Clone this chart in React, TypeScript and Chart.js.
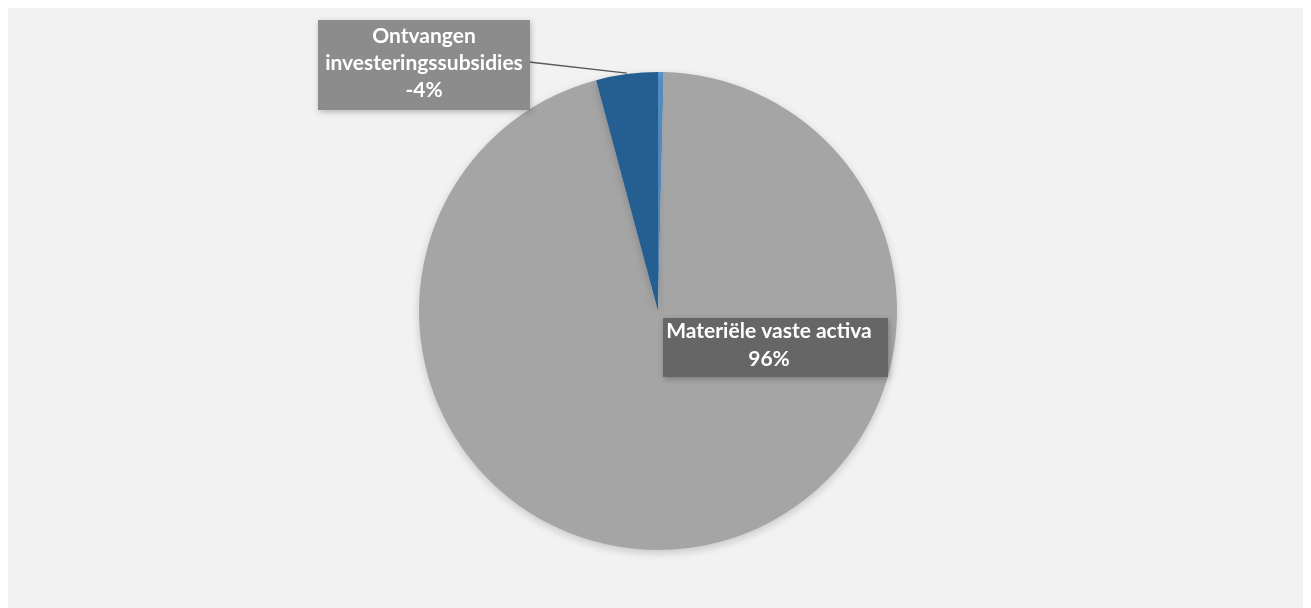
import React, { useEffect, useRef } from "react";
import { Chart, registerables } from "chart.js";

Chart.register(...registerables);

const categories = ["Overige", "Materiële vaste activa", "Ontvangen investeringssubsidies"];
const values = [0.38, 95.45, 4.17];
const shownPercents = [null, 96, -4];
const colors = ["#5b9bd5", "#a5a5a5", "#255e91"];

const FONT = "Lato, 'Open Sans', sans-serif";

const bgPlugin = {
  id: "bg",
  beforeDraw(chart: any) {
    const { ctx, width, height } = chart;
    ctx.save();
    ctx.fillStyle = "#f2f2f2";
    ctx.fillRect(0, 0, width, height);
    ctx.restore();
  },
};

const shadowPlugin = {
  id: "pieShadow",
  beforeDatasetsDraw(chart: any) {
    const ctx = chart.ctx;
    ctx.save();
    ctx.shadowColor = "rgba(0,0,0,0.18)";
    ctx.shadowBlur = 8;
    ctx.shadowOffsetY = 3;
  },
  afterDatasetsDraw(chart: any) {
    chart.ctx.restore();
  },
};

function drawBox(ctx: any, x: number, y: number, w: number, h: number, fill: string) {
  ctx.save();
  ctx.shadowColor = "rgba(0,0,0,0.25)";
  ctx.shadowBlur = 6;
  ctx.shadowOffsetX = 1;
  ctx.shadowOffsetY = 2;
  ctx.fillStyle = fill;
  ctx.fillRect(x, y, w, h);
  ctx.restore();
}

const labelPlugin = {
  id: "labels",
  afterDatasetsDraw(chart: any) {
    const { ctx } = chart;
    const meta = chart.getDatasetMeta(0);
    const arcs = meta.data;
    ctx.save();
    // label for investeringssubsidies (index 2)
    {
      const arc = arcs[2];
      const mid = (arc.startAngle + arc.endAngle) / 2;
      const ex = arc.x + Math.cos(mid) * arc.outerRadius;
      const ey = arc.y + Math.sin(mid) * arc.outerRadius;
      ctx.strokeStyle = "#595959";
      ctx.lineWidth = 1.3;
      ctx.beginPath();
      ctx.moveTo(521, 54);
      ctx.lineTo(ex, ey - 1);
      ctx.stroke();
      drawBox(ctx, 310, 12, 212, 90, "#8c8c8c");
      ctx.fillStyle = "#ffffff";
      ctx.font = `bold 21px ${FONT}`;
      ctx.textAlign = "center";
      ctx.textBaseline = "alphabetic";
      const words = categories[2].split(" ");
      ctx.fillText(words[0], 416, 35);
      ctx.fillText(words[1], 416, 62);
      ctx.fillText(`${shownPercents[2]}%`, 416, 89);
    }
    // label for materiële vaste activa (index 1)
    {
      drawBox(ctx, 655, 310, 225, 59, "#666666");
      ctx.fillStyle = "#ffffff";
      ctx.font = `bold 21px ${FONT}`;
      ctx.textAlign = "center";
      ctx.fillText(categories[1], 761, 330);
      ctx.fillText(`${shownPercents[1]}%`, 761, 358);
    }
    ctx.restore();
  },
};

export default function App() {
  const ref = useRef<HTMLCanvasElement | null>(null);
  useEffect(() => {
    if (!ref.current) return;
    const chart = new Chart(ref.current, {
      type: "pie",
      data: {
        labels: categories,
        datasets: [
          {
            data: values,
            backgroundColor: colors,
            borderWidth: 0,
          },
        ],
      },
      options: {
        animation: false,
        responsive: false,
        maintainAspectRatio: false,
        layout: { padding: { top: 64, bottom: 58, left: 5, right: 0 } },
        plugins: {
          legend: { display: false },
          tooltip: { enabled: false },
          title: { display: false },
        },
      },
      plugins: [bgPlugin, shadowPlugin, labelPlugin],
    });
    return () => chart.destroy();
  }, []);
  return (
    <div style={{ width: 1295, height: 600 }}>
      <canvas ref={ref} width={1295} height={600} style={{ display: "block" }} />
    </div>
  );
}
